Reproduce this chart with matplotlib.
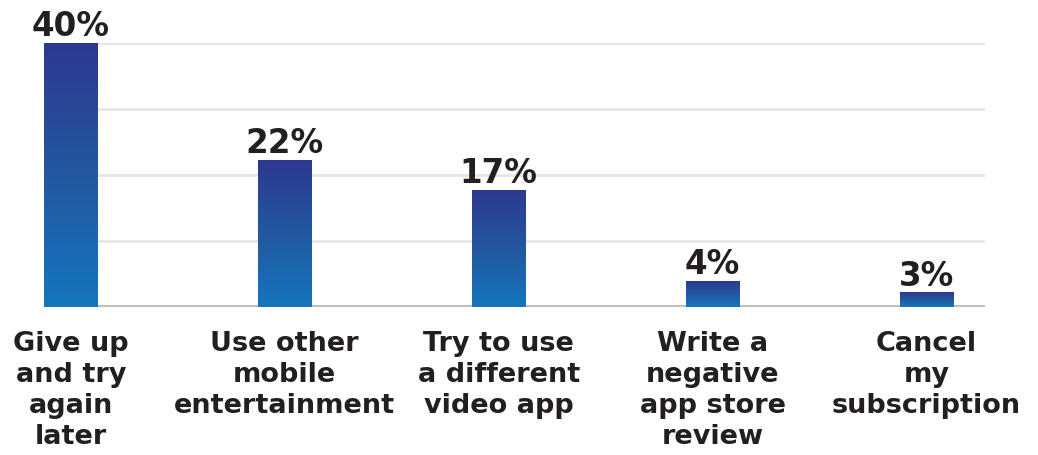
import matplotlib
matplotlib.use("Agg")
import matplotlib.pyplot as plt
import numpy as np
from matplotlib.colors import LinearSegmentedColormap

categories = ["Give up\nand try\nagain\nlater", "Use other\nmobile\nentertainment",
              "Try to use\na different\nvideo app", "Write a\nnegative\napp store\nreview",
              "Cancel\nmy\nsubscription"]
values = [40, 22.3, 17.7, 3.9, 2.2]
labels = ["40%", "22%", "17%", "4%", "3%"]
yticks = [0, 10, 20, 30, 40]

plt.rcParams['font.family'] = ['DejaVu Sans']
fig = plt.figure(figsize=(10.38, 4.55), dpi=100)
ax = fig.add_axes([44/1038, 148/455, (985-44)/1038, (412-148)/455])

x = np.arange(len(values))
width = 0.25
ax.set_xlim(-width/2, (985-70.5)/214)
ax.set_ylim(0, 40)

for t in yticks[1:]:
    ax.hlines(t, 0, 10, color="#e6e6e6", lw=2, zorder=0)
ax.hlines(0, 0, 10, color="#bcbcbc", lw=3.5, zorder=1)

bars = ax.bar(x, values, width=width, color="none", zorder=2)
cmap = LinearSegmentedColormap.from_list("g", ["#1476be", "#2358a0", "#2c3990"])
grad = np.linspace(0, 1, 256).reshape(-1, 1)
for b in bars:
    x0, y0 = b.get_x(), b.get_y()
    w, h = b.get_width(), b.get_height()
    im = ax.imshow(grad, cmap=cmap, origin="lower", aspect="auto",
                   extent=[x0, x0 + w, y0, y0 + h], zorder=2)
    im.set_clip_path(b)

for xi, v, lab in zip(x, values, labels):
    ax.annotate(lab, (xi, v), xytext=(0, 5), textcoords="offset points",
                ha="center", va="baseline", fontsize=23.5, fontweight="bold",
                color="#231f20")

ax.set_xticks(x)
ax.set_xticklabels(categories, fontsize=19.5, fontweight="bold", color="#231f20",
                   linespacing=1.25)
ax.tick_params(axis="x", length=0, pad=17.5)
ax.set_yticks([])
for s in ax.spines.values():
    s.set_visible(False)

fig.savefig("out.png", dpi=100)
